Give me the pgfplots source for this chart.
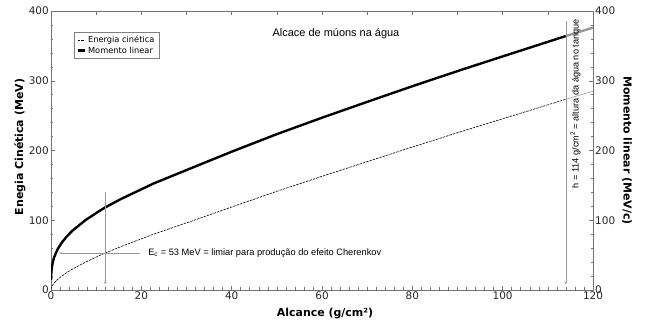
\documentclass[border=0pt]{standalone}
\usepackage{fontspec}
\setmainfont{DejaVu Sans}
\newfontfamily\arial{Liberation Sans}
\usepackage{pgfplots}
\usepackage{pgfplotstable}
\pgfplotsset{compat=1.18}
\usetikzlibrary{arrows.meta}

\pgfplotstableread{
R T p
0.011 1 14.57
0.039 2 20.66
0.081 3 25.36
0.20 5 32.89
0.42 7.5 40.51
0.70 10 47.04
1.45 15 58.27
2.39 20 68.02
3.51 25 76.86
4.75 30 85.09
7.65 40 100.26
10.95 50 114.31
12.0 53 118.36
15.4 62 130.18
22.7 80 152.66
31.7 100 176.44
40 119 198.26
50 141.5 223.44
60 163 247.01
70 184 269.70
80 205 292.14
90 225.5 313.85
100 245.5 334.89
110 265.5 355.80
114 273.5 364.14
120 285 376.10
}\muon

\begin{document}
\begin{tikzpicture}
\begin{axis}[
  at={(0,0)}, anchor=south west,
  scale only axis, width=542bp, height=279bp,
  xmin=0, xmax=120, ymin=0, ymax=400,
  xtick={0,20,...,120}, minor x tick num=9,
  ytick={0,100,...,400}, minor y tick num=4,
  xtick pos=left, ytick pos=left,
  tick align=inside,
  major tick length=4bp, minor tick length=2.5bp,
  axis line style={black!55, line width=0.6pt},
  every tick/.style={black!55, line width=0.5pt},
  /pgf/number format/assume math mode=true,
  tick label style={font=\fontsize{10.5}{12}\selectfont, text=black!85},
  xticklabel style={inner sep=1.5bp},
  yticklabel style={inner sep=2bp},
  xlabel={\bfseries Alcance (g/cm²)},
  xlabel style={at={(axis description cs:0.5,0)}, anchor=base, yshift=-26bp, xshift=3bp, font=\fontsize{11}{13}\selectfont},
  ylabel={\bfseries Enegia Cinética (MeV)},
  ylabel style={at={(axis description cs:-0.0572,0.5125)}, anchor=center, font=\fontsize{11}{13}\selectfont},
  legend style={at={(0.0424,0.9247)}, anchor=north west, font=\fontsize{8.3}{10}\selectfont,
    draw=black!50, line width=0.4pt, inner xsep=2.5bp, inner ysep=2bp, row sep=-1.5bp, cells={anchor=west}},
  legend image code/.code={\draw[#1] (0bp,0bp) -- (7bp,0bp);},
]
\addplot[black, line width=0.6pt, dash pattern=on 2.5bp off 1bp, restrict x to domain=0:114] table[x=R, y=T] {\muon};
\addlegendentry{Energia cinética}
\addplot[black, line width=2.4pt, restrict x to domain=0:114] table[x=R, y=p] {\muon};
\addlegendentry{Momento linear}
\addplot[black!40, line width=0.6pt, restrict x to domain=114:120, forget plot] table[x=R, y=T] {\muon};
\addplot[black!40, line width=2.4pt, restrict x to domain=114:120, forget plot] table[x=R, y=p] {\muon};

\draw[black!40, line width=0.5pt, -{Stealth[length=3bp, width=2.4bp]}] (axis cs:19.7,53) -- (axis cs:1.8,53);
\draw[black!40, line width=0.5pt, -{Stealth[length=3bp, width=2.4bp]}] (axis cs:12,140) -- (axis cs:12,8);
\draw[black!40, line width=0.5pt, -{Stealth[length=3bp, width=2.4bp]}] (axis cs:114,385) -- (axis cs:114,8);

\node[anchor=west, inner sep=0pt, font=\arial\fontsize{9.3}{11}\selectfont] at (axis cs:21.5,53)
  {E\textsubscript{c} = 53 MeV = limiar para produção do efeito Cherenkov};
\node[rotate=90, anchor=center, inner sep=0pt, font=\arial\fontsize{9.2}{11}\selectfont] at (axis cs:116.1,267)
  {h = 114 g/cm\textsuperscript{2} = altura da água no tanque};
\node[anchor=center, inner sep=0pt, font=\arial\fontsize{11}{13}\selectfont] at (axis cs:63.1,367)
  {Alcace de múons na água};
\end{axis}
\begin{axis}[
  at={(0,0)}, anchor=south west,
  scale only axis, width=542bp, height=279bp,
  xmin=0, xmax=120, ymin=0, ymax=400,
  axis x line*=top, axis y line*=right,
  xtick={0,10,...,120}, xticklabels={},
  ytick={0,100,...,400}, minor y tick num=4,
  tick align=inside,
  major tick length=4bp, minor tick length=2.5bp,
  axis line style={black!55, line width=0.6pt},
  every tick/.style={black!55, line width=0.5pt},
  /pgf/number format/assume math mode=true,
  tick label style={font=\fontsize{10.5}{12}\selectfont, text=black!85},
  yticklabel style={inner sep=2bp},
  ylabel={\bfseries Momento linear (MeV/c)},
  ylabel style={at={(axis description cs:1.0627,0.5)}, anchor=center, rotate=180, font=\fontsize{11}{13}\selectfont},
]
\addplot[draw=none, forget plot] coordinates {(0,0)};
\end{axis}
\pgfresetboundingbox
\path[use as bounding box] (-51bp,-32bp) rectangle (602bp,290bp);
\end{tikzpicture}
\end{document}
